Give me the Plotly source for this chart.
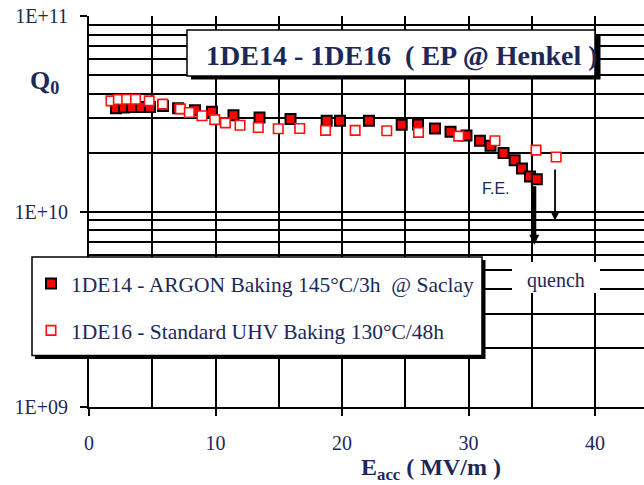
import math
import plotly.graph_objects as go

# Q0 versus accelerating gradient for two electropolished cavities
e_1de14 = [2.13, 2.77, 3.40, 4.11, 4.82, 5.85, 7.04, 8.38, 9.72, 11.42, 13.48, 15.93,
           18.79, 19.84, 22.13, 24.72, 26.01, 27.35, 28.58, 29.84, 30.91, 31.74,
           32.77, 33.65, 34.23, 34.86, 35.40]
q_1de14 = [3.37e10, 3.40e10, 3.42e10, 3.42e10, 3.42e10, 3.46e10, 3.37e10, 3.30e10,
           3.24e10, 3.11e10, 3.03e10, 2.97e10, 2.91e10, 2.91e10, 2.91e10, 2.78e10,
           2.79e10, 2.66e10, 2.56e10, 2.45e10, 2.30e10, 2.17e10, 1.99e10, 1.83e10,
           1.66e10, 1.51e10, 1.46e10]

e_1de16 = [1.74, 2.32, 2.98, 3.68, 4.76, 5.83, 7.22, 7.93, 8.93, 9.94, 10.78, 11.94,
           13.38, 14.96, 16.66, 18.70, 21.04, 23.54, 26.05, 29.23, 32.09, 35.34, 36.93]
q_1de16 = [3.68e10, 3.74e10, 3.75e10, 3.75e10, 3.68e10, 3.54e10, 3.35e10, 3.21e10,
           3.09e10, 2.95e10, 2.84e10, 2.76e10, 2.69e10, 2.65e10, 2.66e10, 2.60e10,
           2.60e10, 2.59e10, 2.54e10, 2.43e10, 2.30e10, 2.06e10, 1.90e10]

name_1de14 = "1DE14 - ARGON Baking 145°C/3h \u00a0@ Saclay"
name_1de16 = "1DE16 - Standard UHV Baking 130°C/48h"
title_text = "1DE14 - 1DE16 \u00a0( EP @ Henkel )"

x_tickvals = [0, 10, 20, 30, 40]
y_tickvals = [1e9, 1e10, 1e11]
y_ticktext = ["1E+09", "1E+10", "1E+11"]
y_minor = [k * 10 ** n for n in (9, 10) for k in range(2, 10)]

# quench arrows: (E, Q at tail, Q at head)
quench_1de14 = (35.2, 1.37e10, 6.76e9)
quench_1de16 = (36.84, 1.67e10, 9.0e9)

W_FIG, H_FIG = 644, 485
L, T, B, R = 89, 16, 78, 0
PW, PH = W_FIG - L - R, H_FIG - T - B
X_MAX = PW / 12.65

NAVY = "#1c2858"
SERIF = "Liberation Serif, Times New Roman, serif"


def px(x):
    return (x - L) / PW


def py(y):
    return (T + PH - y) / PH


fig = go.Figure()
fig.add_trace(go.Scatter(
    x=e_1de14, y=q_1de14, mode="markers", name=name_1de14, legendgroup="a",
    marker=dict(symbol="square", size=10, color="#ff0000",
                line=dict(color="black", width=2)),
))
fig.add_trace(go.Scatter(
    x=e_1de16, y=q_1de16, mode="markers", name=name_1de16, legendgroup="b",
    marker=dict(symbol="square", size=9.5, color="white",
                line=dict(color="#ff1010", width=1.6)),
))

shapes = [
    # title box with drop shadow
    dict(type="rect", xref="paper", yref="paper", x0=px(191), x1=px(600.5),
         y0=py(79.5), y1=py(34), fillcolor="black", line=dict(width=0)),
    dict(type="rect", xref="paper", yref="paper", x0=px(187), x1=px(595),
         y0=py(76), y1=py(30), fillcolor="white", line=dict(color="black", width=1.5)),
    # legend box with drop shadow
    dict(type="rect", xref="paper", yref="paper", x0=px(35), x1=px(485.5),
         y0=py(359), y1=py(260), fillcolor="black", line=dict(width=0)),
    dict(type="rect", xref="paper", yref="paper", x0=px(32), x1=px(482),
         y0=py(355.5), y1=py(257), fillcolor="white", line=dict(color="black", width=1.5)),
    # white patch behind the "quench" label
    dict(type="rect", xref="paper", yref="paper", x0=px(512), x1=px(600),
         y0=py(293), y1=py(262), fillcolor="white", line=dict(width=0)),
]

annotations = [
    dict(text=title_text, xref="paper", yref="paper", x=px(402), y=py(55),
         xanchor="center", yanchor="middle", showarrow=False,
         font=dict(family=SERIF, size=28, color=NAVY, weight="bold")),
    dict(text="Q<sub>0</sub>", xref="paper", yref="paper", x=px(44), y=py(82),
         xanchor="center", yanchor="middle", showarrow=False,
         font=dict(family=SERIF, size=26, color=NAVY, weight="bold")),
    dict(text="E<sub>acc</sub> ( MV/m )", xref="paper", yref="paper", x=px(431), y=py(469),
         xanchor="center", yanchor="middle", showarrow=False,
         font=dict(family=SERIF, size=24, color=NAVY, weight="bold")),
    dict(text="F.E.", xref="paper", yref="paper", x=px(496), y=py(188),
         xanchor="center", yanchor="middle", showarrow=False,
         font=dict(family="Liberation Sans, Arial, sans-serif", size=16, color=NAVY)),
    dict(text="quench", xref="paper", yref="paper", x=px(556), y=py(280),
         xanchor="center", yanchor="middle", showarrow=False,
         font=dict(family=SERIF, size=20, color=NAVY)),
]
for e, q_tail, q_head, width, size in [
    (*quench_1de14, 4, 0.5),
    (*quench_1de16, 1.8, 1.0),
]:
    annotations.append(dict(
        x=e, y=math.log10(q_head), ax=e, ay=math.log10(q_tail),
        xref="x", yref="y", axref="x", ayref="y", text="",
        showarrow=True, arrowhead=2, arrowsize=size, arrowwidth=width,
        arrowcolor="black",
    ))

fig.update_layout(
    width=W_FIG, height=H_FIG,
    margin=dict(l=L, r=R, t=T, b=B, pad=0),
    paper_bgcolor="white", plot_bgcolor="white",
    font=dict(family=SERIF, color=NAVY),
    showlegend=True,
    legend=dict(x=px(31), y=py(263), xanchor="left", yanchor="top",
                bgcolor="rgba(0,0,0,0)", borderwidth=0,
                traceorder="grouped", tracegroupgap=16,
                font=dict(family=SERIF, size=21.5, color=NAVY)),
    shapes=shapes,
    annotations=annotations,
)
fig.update_xaxes(
    range=[0, X_MAX], tickvals=x_tickvals,
    ticks="outside", ticklen=7, tickwidth=1.5, tickcolor="black",
    ticklabelstandoff=10,
    tickfont=dict(family=SERIF, size=20, color=NAVY),
    showgrid=True, gridcolor="black", gridwidth=1.6,
    showline=True, linecolor="black", linewidth=2, zeroline=False,
    minor=dict(dtick=5, showgrid=True, gridcolor="black", gridwidth=1.6, ticks=""),
)
fig.update_yaxes(
    type="log", range=[9, 11], tickvals=y_tickvals, ticktext=y_ticktext,
    ticks="outside", ticklen=7, tickwidth=1.5, tickcolor="black",
    ticklabelstandoff=8,
    tickfont=dict(family=SERIF, size=20, color=NAVY),
    showgrid=True, gridcolor="black", gridwidth=1.6,
    showline=True, linecolor="black", linewidth=2, zeroline=False,
    minor=dict(tickvals=y_minor, showgrid=True, gridcolor="black", gridwidth=1.6, ticks=""),
)

fig.write_html("out.html")
